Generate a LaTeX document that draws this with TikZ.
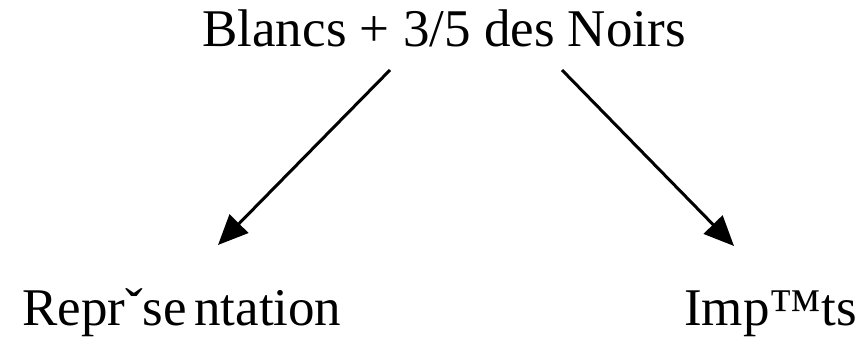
\documentclass[tikz,border=0pt]{standalone}
\usepackage{fontspec}
\setmainfont{Liberation Serif}
\usetikzlibrary{arrows.meta}

\begin{document}
\begin{tikzpicture}[x=1pt,y=-1pt,>={Triangle[length=30pt,width=26pt]},
  labeltext/.style={inner sep=0pt,font=\fontsize{53}{60}\selectfont}]
  \useasboundingbox (0,0) rectangle (861,337);
  \node[labeltext,anchor=base] (total) at (444,47) {Blancs + 3/5 des Noirs};
  \node[labeltext,anchor=base west] (rep) at (22,325) {Repr\char"02C7 se\kern-6pt\ ntation};
  \node[labeltext,anchor=base west] (imp) at (684,325) {Imp\char"2122 ts};
  \coordinate (startL) at (390,70);
  \coordinate (endL) at (218,245);
  \coordinate (startR) at (562,70);
  \coordinate (endR) at (734,246);
  \draw[->,line width=3pt] (startL)--(endL);
  \draw[->,line width=3pt] (startR)--(endR);
\end{tikzpicture}
\end{document}
